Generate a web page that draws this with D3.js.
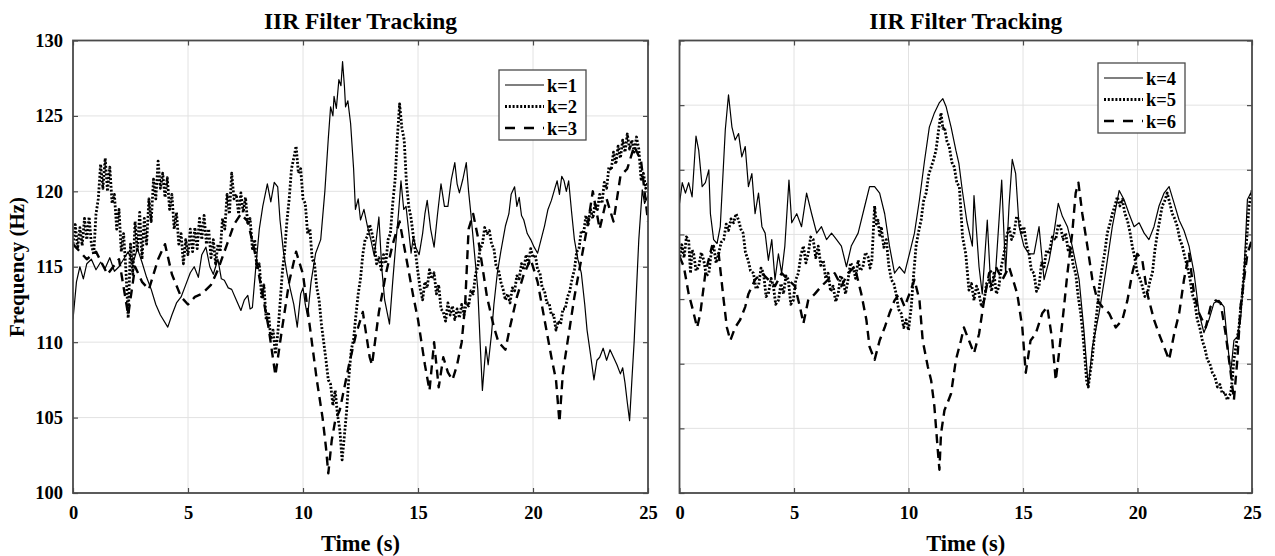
<!DOCTYPE html>
<html>
<head>
<meta charset="utf-8">
<script src="https://cdn.jsdelivr.net/npm/d3@7"></script>
<style>
  body { margin: 0; background: #fff; }
  text { font-family: "Liberation Serif", "Times New Roman", serif; font-weight: bold; fill: #000; }
</style>
</head>
<body>
<svg id="chart" width="1275" height="556"></svg>
<script>
// ---- data: [time (s), frequency (Hz)] ----
const timeTicks = [0, 5, 10, 15, 20, 25];
const freqTicksLeft = [100, 105, 110, 115, 120, 125, 130];
const freqTicksRight = [100, 105, 110, 115, 120, 125, 130, 135];
const seriesNamesLeft = ["k=1", "k=2", "k=3"];
const seriesNamesRight = ["k=4", "k=5", "k=6"];

const k1 = [[0,111.5],[0.15,114],[0.3,115],[0.45,114.2],[0.6,115.2],[0.8,115.5],[1.0,114.8],[1.2,115.3],[1.4,114.9],[1.6,115.6],[1.8,114.7],[2.0,115],[2.2,115.5],[2.4,116],[2.6,115.2],[2.8,116.2],[3.0,115.3],[3.2,114.3],[3.4,113.5],[3.6,112.5],[3.8,111.8],[4.12,111],[4.3,111.8],[4.5,112.6],[4.7,113],[4.9,113.8],[5.1,114.6],[5.27,115],[5.45,114.3],[5.6,115.8],[5.78,116.3],[5.95,115],[6.1,114.5],[6.3,115.5],[6.45,114.2],[6.58,114.1],[6.75,113.6],[6.9,113.5],[7.1,112.8],[7.3,112.1],[7.45,112.8],[7.6,113.1],[7.7,112.2],[7.8,112.3],[7.95,115],[8.1,117.5],[8.25,119],[8.45,120.5],[8.6,119.3],[8.75,120.6],[8.9,120.3],[9.0,118.1],[9.15,116],[9.3,114.6],[9.45,113.5],[9.6,112.5],[9.75,111.0],[9.9,113.2],[10.0,113.6],[10.1,112.5],[10.2,111.7],[10.35,114],[10.55,115.9],[10.77,116.8],[10.95,120],[11.1,123.5],[11.2,125.6],[11.3,125],[11.35,126.3],[11.45,125.5],[11.56,127.4],[11.65,127],[11.72,128.6],[11.8,127],[11.85,125.6],[11.95,126],[12.07,124.5],[12.2,121.5],[12.28,118.8],[12.4,119.5],[12.5,118.1],[12.65,118.8],[12.8,117.7],[12.95,116.8],[13.1,115.7],[13.2,117],[13.3,118.3],[13.42,115],[13.55,112.8],[13.76,111.2],[13.9,114],[14.05,116.8],[14.15,118.5],[14.26,120.7],[14.38,118.8],[14.48,119.0],[14.6,117.3],[14.7,115.9],[14.8,117],[14.9,116.3],[15.05,115.8],[15.2,117.2],[15.3,118.5],[15.4,119.4],[15.55,117.5],[15.7,116.3],[15.85,118.5],[16.0,120.5],[16.15,119],[16.3,119.0],[16.45,120.8],[16.6,121.9],[16.7,120.5],[16.8,119.9],[16.95,120.8],[17.1,121.9],[17.2,120],[17.3,118.5],[17.45,116],[17.6,113.5],[17.7,110],[17.8,106.8],[17.95,109.7],[18.05,108.5],[18.2,110.6],[18.3,112.5],[18.45,114.6],[18.6,116],[18.8,117.7],[18.95,118.5],[19.05,119.8],[19.2,120.3],[19.3,119],[19.4,119.6],[19.5,118.4],[19.6,118.1],[19.75,117.2],[19.9,116.8],[20.05,116.3],[20.2,115.9],[20.35,116.8],[20.5,117.7],[20.65,118.8],[20.8,119.4],[20.95,120.2],[21.05,120.7],[21.15,119.8],[21.25,121],[21.35,120.7],[21.45,120],[21.55,120.7],[21.68,118.6],[21.8,116.8],[21.95,115.5],[22.1,114.6],[22.25,112.5],[22.35,110.8],[22.5,109.2],[22.65,107.5],[22.78,108.8],[22.9,109.0],[23.05,109.6],[23.2,108.8],[23.35,109.5],[23.5,109.0],[23.65,108.5],[23.8,107.9],[23.9,108.3],[24.0,107.3],[24.1,106],[24.2,104.8],[24.3,107.5],[24.4,110.1],[24.5,113.5],[24.6,116.8],[24.75,120.1],[24.85,119.2],[25,119.7]];

const k2 = [[0.0,116.5],[0.1,117.8],[0.2,116.2],[0.3,117.6],[0.4,116.4],[0.5,118.2],[0.6,116.8],[0.7,118.3],[0.8,116.5],[0.9,115.8],[1.0,118.5],[1.1,119.5],[1.2,121.8],[1.3,120.2],[1.4,122.2],[1.5,120],[1.6,121.6],[1.7,119.2],[1.8,119.8],[1.9,117.5],[2.0,118.8],[2.1,116],[2.2,117.2],[2.3,114.8],[2.4,111.6],[2.5,116.5],[2.6,114.5],[2.7,118],[2.8,116],[2.9,118.6],[3.0,115.5],[3.1,118.2],[3.2,116.5],[3.3,119.5],[3.4,118],[3.5,120.8],[3.6,119.5],[3.7,122],[3.8,120.2],[3.9,121.2],[4.0,119.6],[4.1,120.9],[4.2,118.8],[4.3,119.8],[4.4,117.5],[4.5,118.6],[4.6,116.5],[4.7,117.2],[4.8,115.2],[4.9,116.8],[5.0,115.8],[5.1,117.5],[5.2,116],[5.3,117.6],[5.4,116.2],[5.5,118.2],[5.6,116.8],[5.7,118.4],[5.8,116.5],[5.9,117.5],[6.0,115.6],[6.1,116.8],[6.2,115.2],[6.3,116.5],[6.4,116],[6.5,118.2],[6.6,117.5],[6.7,119.8],[6.8,118.5],[6.9,121.2],[7.0,119.5],[7.1,119.8],[7.2,118.5],[7.3,119.9],[7.4,118.6],[7.5,119.6],[7.6,117.8],[7.7,118.2],[7.8,116.2],[7.9,116.8],[8.0,114.8],[8.1,115.2],[8.2,113],[8.3,113.8],[8.4,111.5],[8.5,112],[8.6,110.2],[8.7,110.8],[8.8,109.2],[8.9,110.5],[9.0,112.5],[9.1,114.6],[9.2,116],[9.3,118],[9.4,119.5],[9.5,121.5],[9.6,122.2],[9.7,123.0],[9.8,121.2],[9.9,121.5],[10.0,119.5],[10.1,119.2],[10.2,117.2],[10.3,117.5],[10.4,115.5],[10.5,115.2],[10.6,113.6],[10.7,112.8],[10.8,111.2],[10.9,110],[11.0,108.8],[11.1,107.5],[11.2,107.2],[11.3,105.8],[11.4,106.8],[11.5,105.2],[11.6,104.2],[11.7,102.2],[11.8,103.8],[11.9,105.5],[12.0,107.8],[12.1,109.5],[12.2,110.2],[12.3,111.8],[12.4,113.2],[12.5,114.2],[12.6,115.8],[12.7,116.8],[12.8,117],[12.9,117.8],[13.0,117.2],[13.1,116.5],[13.2,115.2],[13.3,115.6],[13.4,114.8],[13.5,115.8],[13.6,115.2],[13.7,116.8],[13.8,117.2],[13.9,119.2],[14.0,120.7],[14.1,123.5],[14.2,125.8],[14.3,124.2],[14.4,123.4],[14.5,120.5],[14.6,119],[14.7,118.2],[14.8,117],[14.9,115.8],[15.0,114.6],[15.1,113.5],[15.2,112.8],[15.3,114],[15.4,113.6],[15.5,114.8],[15.6,114.2],[15.7,114.6],[15.8,113.2],[15.9,113.8],[16.0,112.2],[16.1,112],[16.2,111.4],[16.3,112.6],[16.4,111.8],[16.5,112.4],[16.6,111.5],[16.7,112.2],[16.8,111.6],[16.9,112.5],[17.0,111.8],[17.1,112.6],[17.2,112.4],[17.3,113.4],[17.4,113.2],[17.5,114.5],[17.6,115.0],[17.7,116.2],[17.8,116.5],[17.9,117.6],[18.0,117.2],[18.1,117.4],[18.2,116.5],[18.3,116.2],[18.4,115.0],[18.5,114.8],[18.6,114.0],[18.7,113.5],[18.8,112.8],[18.9,113.2],[19.0,112.6],[19.1,113.6],[19.2,113.4],[19.3,114.4],[19.4,114.2],[19.5,115.2],[19.6,114.8],[19.7,115.8],[19.8,115.2],[19.9,116.2],[20.0,115.6],[20.1,115.8],[20.2,114.8],[20.3,114.6],[20.4,113.6],[20.5,113.4],[20.6,112.6],[20.7,112.6],[20.8,111.8],[20.9,111.8],[21.0,110.8],[21.1,111.4],[21.2,111.2],[21.3,112.2],[21.4,112.2],[21.5,113.0],[21.6,113.4],[21.7,114.2],[21.8,114.8],[21.9,116.0],[22.0,116.2],[22.1,117.4],[22.2,117.2],[22.3,118.4],[22.4,117.8],[22.5,118.8],[22.6,118.2],[22.7,119.2],[22.8,118.8],[22.9,119.8],[23.0,119.2],[23.1,120.6],[23.2,120.2],[23.3,121.6],[23.4,121.4],[23.5,122.6],[23.6,121.8],[23.7,123.0],[23.8,122.2],[23.9,123.4],[24.0,122.6],[24.1,123.8],[24.2,122.8],[24.3,123.4],[24.4,122.6],[24.5,123.6],[24.6,122.8],[24.7,120.8],[24.8,121.2],[24.9,120.2],[25.0,120.6]];

const k3 = [[0,116.5],[0.3,116],[0.6,115.5],[1.0,116],[1.5,114.5],[2.0,115.5],[2.4,111.8],[2.7,115],[3.0,114],[3.3,113.5],[3.7,115.5],[4.0,116.5],[4.3,114.5],[4.7,113.0],[5.0,112.5],[5.3,113],[5.6,113.2],[6.0,113.8],[6.3,114.8],[6.7,116.5],[7.0,117.8],[7.3,118.5],[7.6,118],[7.9,116],[8.2,113.5],[8.5,111],[8.8,107.8],[9.1,111],[9.4,114],[9.7,116],[10.0,114.5],[10.3,111],[10.6,107.5],[10.85,105],[11.0,103],[11.1,101.3],[11.25,103.5],[11.4,104.8],[11.6,105.5],[11.8,107],[12.0,108.5],[12.3,110.5],[12.6,112],[12.9,109],[13.0,108.5],[13.3,112],[13.6,114.5],[13.9,116.5],[14.2,118],[14.5,115.5],[14.8,113],[15.0,111.5],[15.3,108.5],[15.5,106.8],[15.7,110],[15.9,107],[16.1,109],[16.3,108],[16.5,107.5],[16.7,108.5],[16.9,110],[17.05,112.5],[17.2,117.5],[17.4,118.5],[17.6,117],[17.8,115],[18.0,113],[18.3,111],[18.5,110],[18.8,109.5],[19.0,111],[19.3,113],[19.6,114.5],[19.9,115.5],[20.2,114],[20.5,111.5],[20.8,109],[21.0,107.5],[21.15,104.7],[21.3,108],[21.5,110],[21.8,113],[22.1,115.5],[22.4,118],[22.6,120],[22.9,117.5],[23.2,119.5],[23.5,118],[23.8,121],[24.1,121.5],[24.4,123],[24.7,122],[25,118]];

const k4 = [[0,122.4],[0.12,124],[0.26,123.2],[0.4,124],[0.55,122.9],[0.72,127.6],[0.84,126.5],[0.99,123.7],[1.13,124],[1.28,125],[1.35,121.6],[1.49,119.6],[1.64,119.3],[1.78,120.6],[2.0,128.1],[2.14,130.8],[2.29,128.3],[2.43,127.3],[2.58,127.8],[2.72,126.0],[2.87,126.8],[3.01,123.7],[3.16,124.7],[3.3,121.6],[3.45,123.2],[3.6,120.6],[3.74,120.1],[3.88,118.0],[4.03,119.6],[4.17,116.5],[4.32,118.5],[4.46,117],[4.6,119.1],[4.78,124.2],[4.9,120.9],[5.12,121.6],[5.33,120.6],[5.55,123.2],[5.77,121.6],[5.99,120.1],[6.2,120.6],[6.42,119.6],[6.64,120.1],[6.86,119.6],[7.07,119.1],[7.29,117.5],[7.5,119.1],[7.8,120.1],[8.09,122.2],[8.3,123.7],[8.52,123.7],[8.74,123.2],[8.96,121.6],[9.17,119.1],[9.39,117.0],[9.6,117.5],[9.83,117.0],[10.04,118.5],[10.26,120.1],[10.48,122.7],[10.7,125.7],[10.91,128.3],[11.13,129.4],[11.35,130.2],[11.5,130.5],[11.64,129.9],[11.86,128.3],[12.07,126.5],[12.2,125.5],[12.35,123.4],[12.55,121],[12.79,119.1],[12.86,123],[13.08,117.5],[13.22,115.4],[13.44,121.1],[13.59,116],[13.8,117],[14.07,124.2],[14.24,117],[14.39,122.2],[14.53,125.8],[14.68,124.7],[14.83,120.6],[15.04,119.1],[15.26,118.5],[15.48,118.5],[15.7,120.6],[15.92,116.5],[16.14,118.0],[16.35,120.1],[16.54,122.4],[16.72,121.4],[16.94,120.6],[17.15,119.1],[17.45,116.5],[17.66,112.6],[17.85,108.2],[18.03,111.3],[18.32,113.9],[18.6,117.0],[18.9,120.6],[19.2,123.4],[19.41,122.7],[19.63,121.6],[19.85,120.6],[20.07,120.9],[20.29,120.1],[20.5,119.6],[20.72,120.6],[20.94,122.2],[21.16,123.2],[21.38,123.7],[21.6,122.4],[21.82,121.1],[22.03,120.3],[22.25,119.1],[22.47,117],[22.69,113.9],[22.9,112.4],[23.12,113.4],[23.34,114.7],[23.56,114.9],[23.78,114.4],[23.92,111.8],[24.07,109.3],[24.21,111.8],[24.36,112.1],[24.5,113.4],[24.65,117],[24.8,122.7],[25,123.4]];

const k5 = [[0,118],[0.1,119.2],[0.2,118.2],[0.3,119.8],[0.4,119.6],[0.48,117],[0.55,118.8],[0.62,118.5],[0.72,117.2],[0.84,117.5],[0.95,118.6],[1.06,118],[1.17,116.8],[1.28,117],[1.38,118.5],[1.49,119.1],[1.6,117.8],[1.71,118.5],[1.82,119.4],[1.93,119.6],[2.04,120.8],[2.14,120.3],[2.25,121.2],[2.36,120.9],[2.47,121.6],[2.58,121.1],[2.68,120.4],[2.78,120.1],[2.88,118.6],[3.0,118.0],[3.1,117.2],[3.23,117],[3.34,115.8],[3.45,116],[3.56,117.4],[3.67,117],[3.78,115.2],[3.88,115.4],[4.0,116.6],[4.1,116],[4.2,114.6],[4.32,114.9],[4.43,116.2],[4.54,115.4],[4.65,116.8],[4.75,116.5],[4.86,114.6],[4.97,114.9],[5.08,116.5],[5.19,117],[5.3,118.4],[5.41,119.1],[5.52,117.8],[5.62,118.5],[5.73,119.8],[5.84,119.6],[5.95,118.2],[6.06,119.1],[6.17,117.6],[6.28,118],[6.38,116.6],[6.49,117],[6.6,115.6],[6.71,116],[6.82,114.8],[6.93,115.4],[7.03,116.8],[7.14,116.5],[7.25,115.4],[7.36,116.5],[7.47,117.8],[7.58,117.5],[7.69,116.6],[7.8,118],[7.9,117.2],[8.01,117.5],[8.12,118.6],[8.23,118.3],[8.32,117.4],[8.4,118],[8.52,122.2],[8.6,120.8],[8.67,121.1],[8.75,119.8],[8.81,120.6],[8.92,119],[9.03,119.6],[9.14,117.6],[9.25,116.5],[9.36,116.2],[9.46,115.4],[9.57,114.2],[9.68,113.9],[9.79,112.8],[9.9,113.4],[10.0,112.6],[10.12,114.4],[10.22,116.8],[10.33,119.1],[10.44,120.2],[10.55,121.1],[10.66,122.6],[10.77,123.2],[10.88,124.6],[10.99,125.2],[11.1,125.8],[11.2,126.5],[11.31,128],[11.42,129.4],[11.5,128.2],[11.57,128.3],[11.68,127.2],[11.78,126.8],[11.89,125.6],[12.0,125.2],[12.11,124],[12.22,123.7],[12.3,121.5],[12.36,119.8],[12.5,118.5],[12.64,115.7],[12.75,116.2],[12.86,114.9],[12.97,116],[13.08,115.4],[13.19,114.4],[13.3,114.9],[13.41,116.2],[13.52,116.5],[13.63,115.6],[13.73,117],[13.84,115.4],[13.95,116],[14.06,117.6],[14.17,118.5],[14.28,119.8],[14.39,120.6],[14.5,119.6],[14.61,120.1],[14.72,121.4],[14.83,121.1],[14.94,120],[15.04,120.6],[15.15,119.2],[15.26,118.5],[15.37,117.2],[15.48,117],[15.59,115.6],[15.7,116],[15.81,117.8],[15.92,117.5],[16.03,118.8],[16.14,118.5],[16.28,119.8],[16.43,119.6],[16.54,120.8],[16.64,120.6],[16.75,119.6],[16.86,120.1],[16.97,118.8],[17.08,119.1],[17.19,117.6],[17.3,117],[17.41,115.2],[17.52,113.9],[17.62,112.2],[17.71,110.3],[17.78,108.6],[17.85,108.2],[17.94,109.4],[18.03,110.5],[18.14,112.6],[18.25,114.4],[18.35,116.2],[18.46,117.5],[18.57,118.6],[18.68,120.1],[18.79,120.8],[18.9,121.6],[19.01,122.2],[19.12,122.9],[19.23,122.2],[19.34,122.7],[19.45,121.6],[19.56,121.1],[19.67,120.2],[19.77,119.1],[19.88,118.2],[19.99,117],[20.1,116.6],[20.21,116],[20.32,115.2],[20.43,115.4],[20.54,116.4],[20.65,117],[20.76,118.8],[20.87,120.1],[20.98,121.2],[21.08,122.2],[21.19,122.6],[21.3,123.2],[21.41,122.4],[21.52,121.6],[21.63,121.2],[21.74,120.6],[21.85,119.6],[21.96,119.1],[22.07,118.2],[22.18,117.5],[22.29,116.6],[22.39,115.4],[22.5,114.8],[22.61,113.4],[22.72,112.8],[22.83,111.8],[22.94,111.2],[23.05,110.3],[23.16,110.0],[23.27,109.3],[23.38,109.0],[23.49,108.2],[23.6,108.4],[23.7,107.7],[23.81,107.8],[23.92,107.2],[24.0,107.5],[24.07,107.7],[24.14,108.8],[24.21,110.3],[24.32,111.6],[24.43,112.8],[24.5,114.2],[24.58,115.4],[24.65,117],[24.72,118.5],[24.8,120.4],[24.87,122.2],[25,123.4]];

const k6 = [[0,118.3],[0.19,117.5],[0.4,115.4],[0.55,114.4],[0.77,112.8],[0.91,113.9],[1.13,117],[1.42,119.1],[1.71,118.5],[1.93,114.9],[2.07,112.8],[2.22,111.8],[2.43,112.8],[2.65,113.4],[2.87,114.4],[3.01,115.4],[3.3,116.5],[3.6,117],[3.88,116.5],[4.17,116],[4.46,117],[4.75,116.5],[5.04,116],[5.26,114.4],[5.41,113.1],[5.62,114.9],[5.91,115.4],[6.2,116],[6.49,116.5],[6.78,117],[7.07,116],[7.36,117],[7.65,117.5],[7.94,115.4],[8.16,113.4],[8.3,111.3],[8.52,110.3],[8.74,111.8],[8.96,112.8],[9.17,113.9],[9.39,114.9],[9.6,115.4],[9.83,114.4],[10.04,115.4],[10.26,116.5],[10.48,114.9],[10.62,111.8],[10.84,109.8],[10.99,108.7],[11.13,106.7],[11.28,103.3],[11.35,101.8],[11.42,104.6],[11.57,106.4],[11.71,107],[11.86,107.7],[12.07,110.3],[12.29,111.8],[12.42,112.8],[12.64,111.8],[12.86,110.8],[13.08,112.3],[13.3,114.9],[13.52,117],[13.81,117.5],[14.1,116.5],[14.39,117.5],[14.75,115.4],[14.97,112.8],[15.12,109.3],[15.33,111.8],[15.55,112.3],[15.84,113.9],[16.06,114.4],[16.28,111.8],[16.43,108.7],[16.57,110.8],[16.79,114.4],[16.94,117],[17.15,120.1],[17.3,123.2],[17.42,124],[17.59,121.6],[17.81,119.1],[18.03,116.5],[18.25,114.9],[18.46,114.4],[18.76,113.9],[19.05,112.8],[19.34,113.4],[19.56,114.9],[19.77,117],[19.99,118.5],[20.21,118],[20.43,115.4],[20.72,113.4],[20.94,112.3],[21.16,111.3],[21.38,110.3],[21.6,112.3],[21.82,113.9],[22.03,116.5],[22.25,118.5],[22.47,115.4],[22.69,113.9],[22.98,112.8],[23.19,114.4],[23.41,114.9],[23.63,114.7],[23.85,112.3],[24.07,109.3],[24.21,107.2],[24.36,110.3],[24.5,114.4],[24.65,116.5],[24.8,118.5],[25,119.6]];

// ---- layout ----
const svg = d3.select("#chart");
const plotTop = 40.5, plotBottom = 493;

const lineStyles = [
  { width: 1.2, dash: null },        // solid
  { width: 2.8, dash: "2 1.8" },     // dotted
  { width: 2.4, dash: "9 6" }        // dashed
];

const panels = [
  { x0: 73, x1: 648, domain: [100, 130], yTicks: freqTicksLeft, showYLabels: true,
    series: [k1, k2, k3], names: seriesNamesLeft, legend: { x: 499, y: 70 } },
  { x0: 679.5, x1: 1252, domain: [100, 135], yTicks: freqTicksRight, showYLabels: false,
    series: [k4, k5, k6], names: seriesNamesRight, legend: { x: 1098, y: 63 } }
];

panels.forEach((p, pi) => {
  const x = d3.scaleLinear().domain([0, 25]).range([p.x0, p.x1]);
  const y = d3.scaleLinear().domain(p.domain).range([plotBottom, plotTop]);
  const g = svg.append("g");

  // grid
  g.append("g").selectAll("line").data(timeTicks.slice(1, -1)).join("line")
    .attr("x1", d => x(d)).attr("x2", d => x(d))
    .attr("y1", plotTop).attr("y2", plotBottom)
    .attr("stroke", "#e2e2e2").attr("stroke-width", 1);
  g.append("g").selectAll("line").data(p.yTicks.slice(1, -1)).join("line")
    .attr("y1", d => y(d)).attr("y2", d => y(d))
    .attr("x1", p.x0).attr("x2", p.x1)
    .attr("stroke", "#e2e2e2").attr("stroke-width", 1);

  // series
  const clipId = "clip" + pi;
  svg.append("clipPath").attr("id", clipId).append("rect")
    .attr("x", p.x0).attr("y", plotTop).attr("width", p.x1 - p.x0).attr("height", plotBottom - plotTop);
  const line = d3.line().x(d => x(d[0])).y(d => y(d[1]));
  p.series.forEach((s, si) => {
    g.append("path").datum(s)
      .attr("clip-path", `url(#${clipId})`)
      .attr("d", line)
      .attr("fill", "none")
      .attr("stroke", "#000")
      .attr("stroke-width", lineStyles[si].width)
      .attr("stroke-dasharray", lineStyles[si].dash)
      .attr("stroke-linejoin", "round");
  });

  // axes (ticks pointing inward on all four sides)
  const axisColor = "#4a4a4a";
  const styleAxis = sel => {
    sel.select(".domain").remove();
    sel.selectAll(".tick line").attr("stroke", axisColor).attr("stroke-width", 1.2);
    sel.selectAll("text").style("font-size", "18.5px").attr("fill", "#000");
  };
  g.append("g").attr("transform", `translate(0,${plotBottom})`)
    .call(d3.axisBottom(x).tickValues(timeTicks).tickSize(-5).tickPadding(13).tickFormat(d3.format("d")))
    .call(styleAxis);
  g.append("g").attr("transform", `translate(0,${plotTop})`)
    .call(d3.axisTop(x).tickValues(timeTicks).tickSize(-5).tickFormat(""))
    .call(styleAxis);
  g.append("g").attr("transform", `translate(${p.x0},0)`)
    .call(d3.axisLeft(y).tickValues(p.yTicks).tickSize(-5).tickPadding(10)
      .tickFormat(p.showYLabels ? d3.format("d") : ""))
    .call(styleAxis);
  g.append("g").attr("transform", `translate(${p.x1},0)`)
    .call(d3.axisRight(y).tickValues(p.yTicks).tickSize(-5).tickFormat(""))
    .call(styleAxis);

  // box
  g.append("rect")
    .attr("x", p.x0).attr("y", plotTop).attr("width", p.x1 - p.x0).attr("height", plotBottom - plotTop)
    .attr("fill", "none").attr("stroke", axisColor).attr("stroke-width", 1.8);

  // title and x label
  const cx = (p.x0 + p.x1) / 2;
  g.append("text").attr("x", cx).attr("y", 29).attr("text-anchor", "middle")
    .style("font-size", "23.5px").text("IIR Filter Tracking");
  g.append("text").attr("x", cx).attr("y", 551).attr("text-anchor", "middle")
    .style("font-size", "22.5px").text("Time (s)");

  // legend
  const lg = g.append("g").attr("transform", `translate(${p.legend.x},${p.legend.y})`);
  lg.append("rect").attr("width", 87).attr("height", 70)
    .attr("fill", "#fff").attr("stroke", "#4a4a4a").attr("stroke-width", 1.3);
  p.names.forEach((n, i) => {
    const ry = 15 + i * 21.5;
    lg.append("line").attr("x1", 6).attr("x2", 45).attr("y1", ry).attr("y2", ry)
      .attr("stroke", "#000")
      .attr("stroke-width", lineStyles[i].width)
      .attr("stroke-dasharray", i === 2 ? "10 9" : lineStyles[i].dash);
    lg.append("text").attr("x", 48).attr("y", ry + 6.5)
      .style("font-size", "18.5px").text(n);
  });
});

// y label (left panel only)
svg.append("text")
  .attr("transform", "translate(24,267) rotate(-90)")
  .attr("text-anchor", "middle")
  .style("font-size", "21px")
  .text("Frequency (Hz)");
</script>
</body>
</html>
